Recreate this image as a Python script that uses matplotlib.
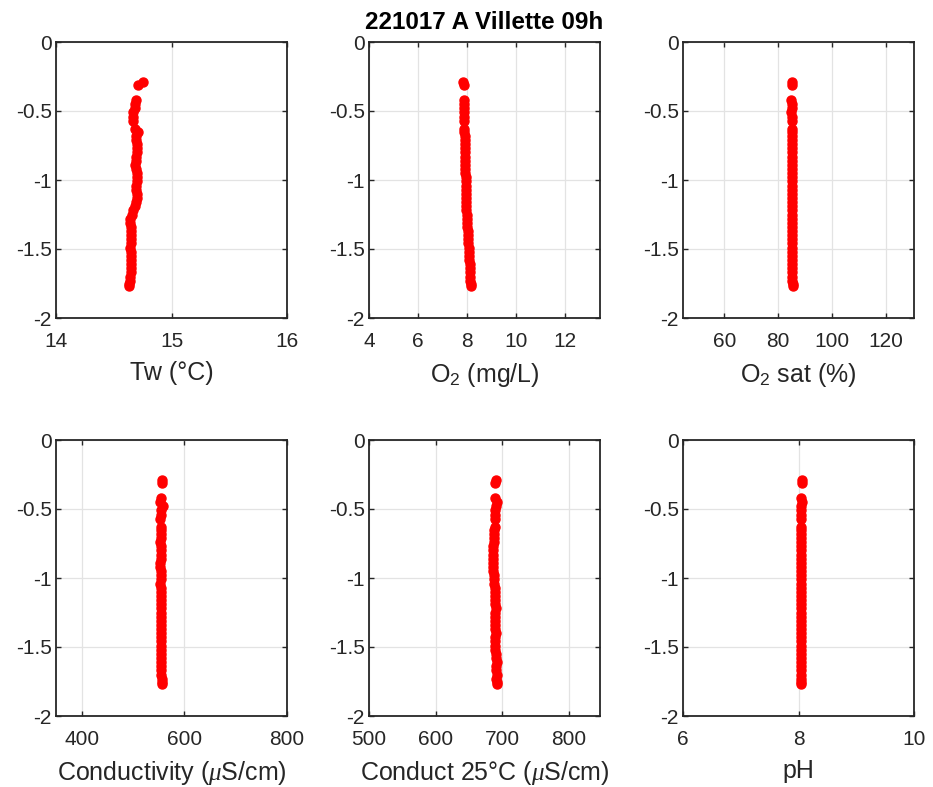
import matplotlib
matplotlib.use("Agg")
import matplotlib.pyplot as plt

plt.rcParams['font.family'] = ['Liberation Sans', 'DejaVu Sans']
plt.rcParams['axes.unicode_minus'] = False
plt.rcParams['mathtext.fontset'] = 'custom'
plt.rcParams['mathtext.rm'] = 'Liberation Sans'
plt.rcParams['mathtext.it'] = 'Liberation Serif:italic'

title = "221017 A Villette 09h"

depth = [-0.29, -0.31, -0.42, -0.45, -0.48, -0.51, -0.54, -0.57, -0.63, -0.65,
         -0.68, -0.71, -0.74, -0.77, -0.80, -0.83, -0.86, -0.89, -0.92, -0.95,
         -0.98, -1.01, -1.04, -1.07, -1.10, -1.13, -1.16, -1.19, -1.22, -1.25,
         -1.28, -1.31, -1.34, -1.37, -1.40, -1.43, -1.46, -1.49, -1.52, -1.55,
         -1.58, -1.61, -1.64, -1.67, -1.70, -1.73, -1.75, -1.77]

tw = [14.75, 14.71, 14.69, 14.68, 14.68, 14.67, 14.67, 14.67, 14.68, 14.71,
      14.69, 14.69, 14.70, 14.70, 14.70, 14.69, 14.69, 14.68, 14.69, 14.70,
      14.70, 14.70, 14.69, 14.69, 14.70, 14.70, 14.69, 14.68, 14.67, 14.66,
      14.64, 14.64, 14.65, 14.65, 14.65, 14.65, 14.65, 14.64, 14.65, 14.65,
      14.65, 14.65, 14.65, 14.65, 14.64, 14.64, 14.63, 14.63]

o2 = [7.85, 7.86, 7.86, 7.87, 7.87, 7.87, 7.88, 7.88, 7.89, 7.89,
      7.90, 7.90, 7.90, 7.91, 7.91, 7.92, 7.92, 7.92, 7.93, 7.93,
      7.94, 7.94, 7.95, 7.95, 7.96, 7.96, 7.97, 7.98, 7.98, 7.99,
      8.00, 8.01, 8.02, 8.03, 8.04, 8.05, 8.06, 8.07, 8.08, 8.09,
      8.10, 8.11, 8.12, 8.12, 8.13, 8.14, 8.15, 8.16]

o2sat = [85.0, 85.0, 84.9, 85.0, 85.0, 84.9, 85.0, 85.0, 85.0, 85.1,
         85.0, 85.0, 85.1, 85.0, 85.0, 85.1, 85.0, 85.1, 85.0, 85.1,
         85.0, 85.1, 85.1, 85.0, 85.1, 85.1, 85.0, 85.1, 85.1, 85.2,
         85.1, 85.1, 85.2, 85.1, 85.1, 85.2, 85.1, 85.2, 85.2, 85.1,
         85.2, 85.2, 85.1, 85.2, 85.2, 85.2, 85.3, 85.3]

cond = [557, 557, 555, 553, 558, 554, 554, 553, 555, 555,
        554, 554, 553, 554, 555, 554, 554, 553, 553, 554,
        554, 554, 553, 554, 554, 554, 554, 555, 554, 554,
        554, 555, 555, 554, 555, 555, 555, 554, 555, 555,
        554, 555, 555, 555, 555, 556, 556, 556]

cond25 = [691, 690, 689, 692, 691, 690, 690, 689, 689, 688,
          688, 688, 688, 687, 687, 687, 686, 686, 687, 687,
          688, 688, 688, 689, 689, 690, 690, 690, 691, 690,
          690, 689, 690, 690, 691, 690, 690, 690, 690, 691,
          691, 692, 691, 691, 692, 691, 692, 692]

ph = [8.06, 8.06, 8.05, 8.06, 8.05, 8.05, 8.05, 8.05, 8.05, 8.05,
      8.05, 8.05, 8.05, 8.05, 8.05, 8.05, 8.05, 8.05, 8.05, 8.05,
      8.05, 8.05, 8.05, 8.05, 8.05, 8.05, 8.05, 8.05, 8.05, 8.05,
      8.05, 8.05, 8.05, 8.05, 8.05, 8.05, 8.05, 8.05, 8.05, 8.05,
      8.05, 8.05, 8.05, 8.05, 8.05, 8.05, 8.05, 8.05]

series = [tw, o2, o2sat, cond, cond25, ph]
xlabels = ['Tw (°C)', 'O$_2$ (mg/L)', 'O$_2$ sat (%)',
           'Conductivity ($\\mu$S/cm)', 'Conduct 25°C ($\\mu$S/cm)', 'pH']
xlims = [(14, 16), (4, 13.43), (44.7, 130.3), (350, 800), (500, 847), (6, 10)]
xticks = [[14, 15, 16], [4, 6, 8, 10, 12], [60, 80, 100, 120],
          [400, 600, 800], [500, 600, 700, 800], [6, 8, 10]]
yticks = [0, -0.5, -1, -1.5, -2]
yticklabels = ['0', '-0.5', '-1', '-1.5', '-2']

W, H = 933, 787
fig = plt.figure(figsize=(W / 100, H / 100), dpi=100)
lefts = [56, 369, 683]
tops = [42, 440]
aw, ah = 231, 276
dark = '#262626'

for i, vals in enumerate(series):
    r, c = divmod(i, 3)
    ax = fig.add_axes([lefts[c] / W, 1 - (tops[r] + ah) / H, aw / W, ah / H])
    ax.plot(vals, depth, 'o', color='#ff0000', mfc='#ff0000', mec='#ff0000',
            ms=6.5, zorder=3, clip_on=False)
    ax.set_xlim(*xlims[i])
    ax.set_ylim(-2, 0)
    ax.set_xticks(xticks[i])
    ax.set_yticks(yticks)
    ax.set_yticklabels(yticklabels)
    ax.grid(True, color='#e3e3e3', linewidth=0.9)
    ax.set_axisbelow(True)
    ax.tick_params(direction='in', length=3.5, width=1.0, color=dark,
                   top=True, right=True, labelsize=15, labelcolor=dark)
    ax.tick_params(axis='x', pad=10)
    ax.tick_params(axis='y', pad=3)
    for s in ax.spines.values():
        s.set_color(dark)
        s.set_linewidth(1.3)
    ax.set_xlabel(xlabels[i], fontsize=18, color=dark, labelpad=7)
    if i == 1:
        ax.set_title(title, fontsize=17.5, fontweight='bold', color='black', pad=9.5)

fig.savefig('out.png', dpi=100, facecolor='white')
